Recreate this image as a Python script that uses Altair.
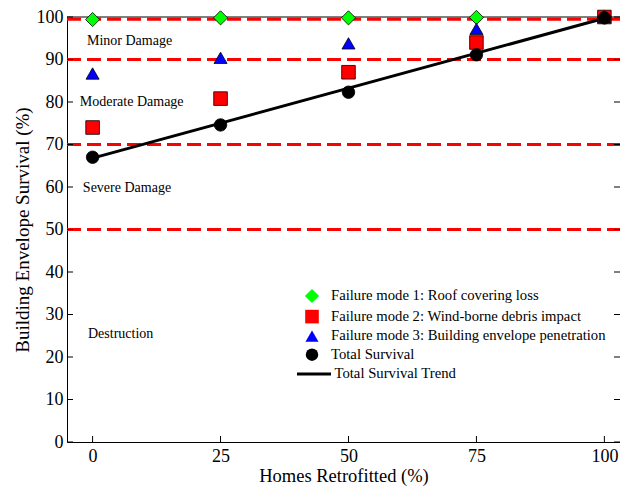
import altair as alt
import pandas as pd

# ---------------- data ----------------
x_vals = [0, 25, 50, 75, 100]
mode1 = [99.4, 99.8, 99.8, 99.9, 100.0]
mode2 = [74.0, 80.8, 87.0, 94.0, 100.0]
mode3 = [86.7, 90.4, 93.8, 97.2, 100.0]
total = [67.0, 74.6, 82.3, 91.1, 99.8]
trend_x = [0, 100]
trend_y = [66.8, 99.7]

series_names = [
    "Failure mode 1: Roof covering loss",
    "Failure mode 2: Wind-borne debris impact",
    "Failure mode 3: Building envelope penetration",
    "Total Survival",
]
trend_name = "Total Survival Trend"

thresholds = [99.5, 90, 70, 50]
ann_text = ["Minor Damage", "Moderate Damage", "Severe Damage", "Destruction"]
ann_x = [-1.1, -2.5, -1.9, -0.9]
ann_y = [94.4, 79.9, 59.8, 25.4]

x_ticks = [0, 25, 50, 75, 100]
y_ticks = [0, 10, 20, 30, 40, 50, 60, 70, 80, 90, 100]

# ---------------- tables ----------------
pts = pd.DataFrame(
    [{"series": s, "x": x, "y": y}
     for s, ys_ in zip(series_names, [mode1, mode2, mode3, total])
     for x, y in zip(x_vals, ys_)]
)
trend = pd.DataFrame({"x": trend_x, "y": trend_y, "name": [trend_name] * len(trend_x)})
thr = pd.DataFrame({"y": thresholds})
ann = pd.DataFrame({"t": ann_text, "x": ann_x, "y": ann_y})
xt = pd.DataFrame({"x": x_ticks})
yt = pd.DataFrame({"y": y_ticks})

W, H = 553, 425
FONT = "Liberation Serif"
xs = alt.Scale(domain=[-5, 103.05], nice=False, zero=False)
ys = alt.Scale(domain=[0, 100], nice=False, zero=False)

x_axis = alt.Axis(values=x_ticks, title="Homes Retrofitted (%)", ticks=False,
                  labelPadding=5, labelFontSize=18, titleFontSize=18.5,
                  labelFont=FONT, titleFont=FONT,
                  titleY=39.5, titleBaseline="alphabetic", labelFlush=False)
y_axis = alt.Axis(values=y_ticks, title="Building Envelope Survival (%)", ticks=False,
                  labelPadding=4, labelFontSize=18, titleFontSize=19,
                  labelFont=FONT, titleFont=FONT,
                  titleX=-39, titleY=H / 2, titleAngle=270, titleAlign="center",
                  titleBaseline="alphabetic", labelFlush=False)

def X(field="x"):
    return alt.X(f"{field}:Q", scale=xs, axis=x_axis)

def Y(field="y"):
    return alt.Y(f"{field}:Q", scale=ys, axis=y_axis)

dashed = alt.Chart(thr).mark_rule(color="#FF0000", strokeWidth=3, strokeDash=[14, 6]).encode(
    y=Y(), x=alt.value(0), x2=alt.value(W)
)

top_border = alt.Chart(thr.head(1)).mark_rule(color="black", strokeWidth=1).encode(
    y=alt.value(0), x=alt.value(0), x2=alt.value(W)
)

ytick_left = alt.Chart(yt).mark_rule(color="black", strokeWidth=1).encode(
    y=Y(), x=alt.value(0), x2=alt.value(6)
)
ytick_right = alt.Chart(yt).mark_rule(color="black", strokeWidth=1).encode(
    y=Y(), x=alt.value(W - 6), x2=alt.value(W)
)
xtick = alt.Chart(xt).mark_rule(color="black", strokeWidth=1).encode(
    x=X(), y=alt.value(H), y2=alt.value(H - 6)
)

trend_line = alt.Chart(trend).mark_line(strokeWidth=3).encode(
    x=X(), y=Y(),
    stroke=alt.Stroke("name:N", scale=alt.Scale(domain=[trend_name], range=["black"]),
                      legend=alt.Legend(orient="none", legendX=228.5, legendY=338.5, title=None,
                                        symbolType="stroke", symbolSize=1156,
                                        symbolStrokeWidth=3, labelOffset=2,
                                        labelFont=FONT, labelFontSize=14.7,
                                        labelColor="black", padding=0, labelLimit=400)),
)

pt_legend = alt.Legend(orient="none", legendX=237.5, legendY=271.5, title=None,
                       symbolStrokeColor="black", symbolStrokeWidth=0.8,
                       rowPadding=2.6, labelOffset=11.5, labelFont=FONT,
                       labelFontSize=14.7, labelColor="black", padding=0,
                       labelLimit=400)

points = alt.Chart(pts).mark_point(filled=True, stroke="black", strokeWidth=0.8, opacity=1).encode(
    x=X(), y=Y(),
    fill=alt.Fill("series:N", scale=alt.Scale(domain=series_names,
                                              range=["#00FF00", "#FF0000", "#0000FF", "#000000"]),
                  legend=pt_legend),
    shape=alt.Shape("series:N", scale=alt.Scale(domain=series_names,
                                                range=["diamond", "square", "triangle-up", "circle"]),
                    legend=pt_legend),
    size=alt.Size("series:N", scale=alt.Scale(domain=series_names, range=[200, 156, 225, 240]),
                  legend=pt_legend),
    order=alt.Order("series:N"),
)

labels = alt.Chart(ann).mark_text(align="left", baseline="middle", font=FONT,
                                  fontSize=14, color="black").encode(
    x=X(), y=Y(), text="t:N"
)

chart = alt.layer(
    dashed, top_border, ytick_left, ytick_right, xtick, trend_line, points, labels
).properties(
    width=W, height=H,
    padding={"left": 59, "top": 9, "right": 0, "bottom": 44},
    autosize=alt.AutoSizeParams(type="none"),
).resolve_legend(
    stroke="independent"
).configure(
    font=FONT
).configure_view(
    stroke=None
).configure_axis(
    grid=False, domainColor="black", domainWidth=1, labelColor="black",
    titleColor="black", titleFontWeight="normal", labelFont=FONT, titleFont=FONT
)

chart.save("out.html", embed_options={"renderer": "svg", "actions": False})
